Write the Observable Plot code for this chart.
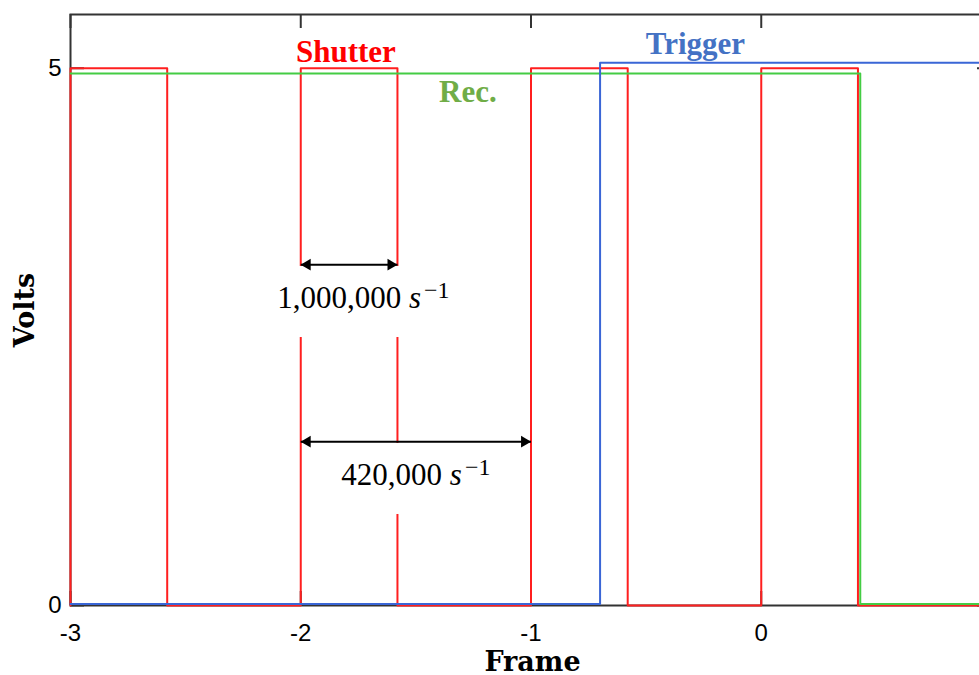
<!DOCTYPE html>
<html><head><meta charset="utf-8">
<script src="https://cdn.jsdelivr.net/npm/d3@7"></script>
<script src="https://cdn.jsdelivr.net/npm/@observablehq/plot@0.6"></script>
<style>
html,body{margin:0;padding:0;background:#fff;overflow:hidden;}
#chart{width:979px;height:675px;overflow:hidden;}
</style>
</head><body><div id="chart"></div>
<script>
// ---- data ----
const xTicks = [-3, -2, -1, 0];
const yTicks = [0, 5];

const shutterT = [-3, -3, -2.58, -2, -1.58, -1, -0.58, 0, 0.42, 1];
const shutterV = [0, 5, 0, 5, 0, 5, 0, 5, 0, 0];

const recT = [-3, 0.43, 1];
const recV = [4.95, 0.015, 0.015];

const trigT = [-3, -0.7, 1];
const trigV = [0.015, 5.05, 5.05];

const signalNames = ["Shutter", "Rec.", "Trigger"];
const signalLabelColors = ["#ff0000", "#70ad47", "#4472c4"];

const rateLabels = ["1,000,000", "420,000"];
const rateFrom = [-2, -2];
const rateTo = [-1.58, -1];

// ---- layout (annotation placement) ----
const signalLabelX = [-1.804, -1.274, -0.286];
const signalLabelY = [5.056, 4.684, 5.134];
const arrowY = [3.172, 1.525];
const rateTextX = [-1.728, -1.5];
const rateTextY = [2.764, 1.117];
const boxX1 = [-2.153, -1.879], boxX2 = [-1.306, -1.119];
const boxY1 = [2.494, 0.847], boxY2 = [3.155, 1.508];

const series = (T, V) => T.map((t, i) => ({t, v: V[i]}));
const signals = signalNames.map((name, i) => ({name, x: signalLabelX[i], y: signalLabelY[i], color: signalLabelColors[i]}));
const rates = rateLabels.map((label, i) => ({
  label, from: rateFrom[i], to: rateTo[i], ay: arrowY[i],
  tx: rateTextX[i], ty: rateTextY[i],
  bx1: boxX1[i], bx2: boxX2[i], by1: boxY1[i], by2: boxY2[i]
}));

const axisColor = "#333333";

const chart = Plot.plot({
  width: 979, height: 675,
  marginLeft: 70, marginRight: -12, marginTop: 14, marginBottom: 70,
  style: {fontFamily: "Liberation Sans", fontSize: "24px", background: "white", color: "black"},
  x: {domain: [-3, 1], ticks: xTicks, tickSize: 0, tickPadding: 18, tickFormat: d => String(d), label: null},
  y: {domain: [0, 5.5], ticks: yTicks, tickSize: 0, tickPadding: 9, tickFormat: d => String(d), label: null},
  color: {type: "identity"},
  marks: [
    Plot.frame({stroke: axisColor, strokeWidth: 2}),
    Plot.ruleX(xTicks, {x: d => d, insetBottom: 577, stroke: axisColor, strokeWidth: 2}),
    Plot.ruleX(xTicks, {x: d => d, insetTop: 577, stroke: axisColor, strokeWidth: 2}),
    Plot.ruleY(yTicks, {y: d => d, insetRight: 907, stroke: axisColor, strokeWidth: 2}),
    Plot.ruleY(yTicks, {y: d => d, insetLeft: 907, stroke: axisColor, strokeWidth: 2}),
    Plot.line(series(shutterT, shutterV), {x: "t", y: "v", curve: "step-after", stroke: "#ff1f1f", strokeWidth: 2}),
    Plot.line(series(recT, recV), {x: "t", y: "v", curve: "step-after", stroke: "#44cc44", strokeWidth: 2}),
    Plot.line(series(trigT, trigV), {x: "t", y: "v", curve: "step-after", stroke: "#3a66d6", strokeWidth: 2}),
    Plot.rect(rates, {x1: "bx1", x2: "bx2", y1: "by1", y2: "by2", fill: "white"}),
    Plot.link(rates, {x1: "from", x2: "to", y1: "ay", y2: "ay", stroke: "black", strokeWidth: 2}),
    Plot.dot(rates, {x: "from", y: "ay", symbol: "triangle", r: 4.3, rotate: -90, dx: 6.6, fill: "black", stroke: "none"}),
    Plot.dot(rates, {x: "to", y: "ay", symbol: "triangle", r: 4.3, rotate: 90, dx: -6.6, fill: "black", stroke: "none"}),
    Plot.text(rates, {x: "tx", y: "ty", text: d => d.label + " s^-1", fontFamily: "Liberation Serif", fontSize: 31, textAnchor: "middle", lineAnchor: "bottom", fill: "black"}),
    Plot.text(signals, {x: "x", y: "y", text: "name", fill: "color", fontFamily: "Liberation Serif", fontWeight: "bold", fontSize: 31, textAnchor: "middle", lineAnchor: "bottom"}),
    Plot.text(["Volts"], {text: d => d, frameAnchor: "left", dx: -45, rotate: -90, textAnchor: "middle", lineAnchor: "middle", fontFamily: "DejaVu Serif", fontWeight: "bold", fontSize: 27, fill: "black"}),
    Plot.text(["Frame"], {text: d => d, frameAnchor: "bottom", dx: 1.5, dy: 57, textAnchor: "middle", lineAnchor: "middle", fontFamily: "DejaVu Serif", fontWeight: "bold", fontSize: 27, fill: "black"})
  ]
});

// tick labels size
chart.querySelectorAll('g[aria-label$="tick label"]').forEach(g => {
  g.setAttribute("font-size", "24");
  g.style.fontSize = "24px";
});

// math-style rate labels: italic s with superscript −1
const ns = "http://www.w3.org/2000/svg";
chart.querySelectorAll("text").forEach(el => {
  const m = el.textContent.match(/^(.*) s\^-1$/);
  if (!m) return;
  el.textContent = "";
  const a = document.createElementNS(ns, "tspan");
  a.textContent = m[1] + "\u00a0";
  const b = document.createElementNS(ns, "tspan");
  b.setAttribute("font-style", "italic");
  b.textContent = "s";
  const c = document.createElementNS(ns, "tspan");
  c.setAttribute("font-size", "24");
  c.setAttribute("dy", "-10");
  c.setAttribute("dx", "3");
  c.textContent = "\u22121";
  el.append(a, b, c);
});

document.getElementById("chart").appendChild(chart);
</script></body></html>
